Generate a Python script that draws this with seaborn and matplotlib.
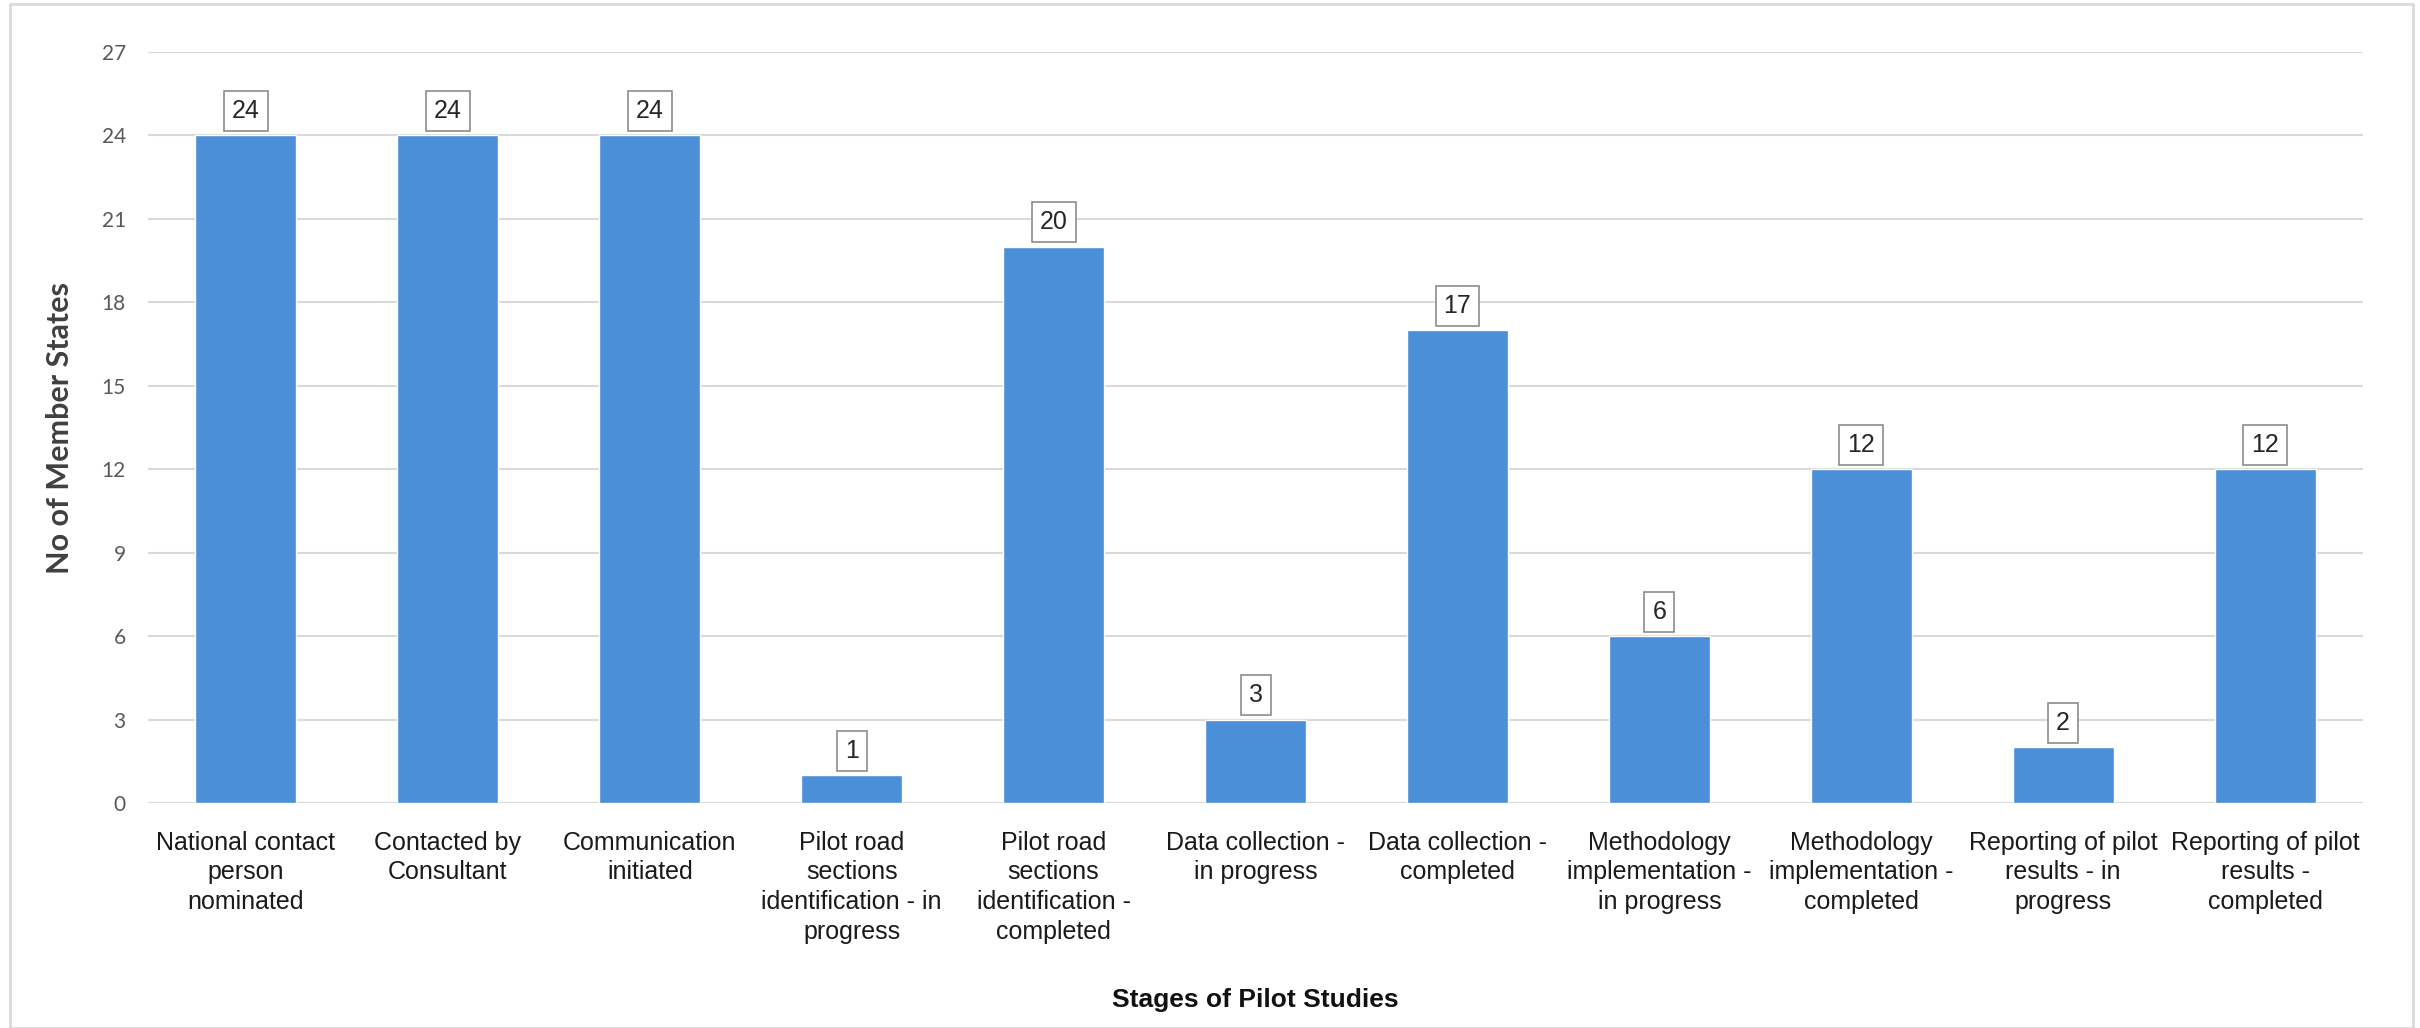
import matplotlib
matplotlib.use("Agg")
import matplotlib.pyplot as plt
import seaborn as sns
from matplotlib.patches import Rectangle

# Chart data
stages = [
    "National contact\nperson\nnominated",
    "Contacted by\nConsultant",
    "Communication\ninitiated",
    "Pilot road\nsections\nidentification - in\nprogress",
    "Pilot road\nsections\nidentification -\ncompleted",
    "Data collection -\nin progress",
    "Data collection -\ncompleted",
    "Methodology\nimplementation -\nin progress",
    "Methodology\nimplementation -\ncompleted",
    "Reporting of pilot\nresults - in\nprogress",
    "Reporting of pilot\nresults -\ncompleted",
]
member_states = [24, 24, 24, 1, 20, 3, 17, 6, 12, 2, 12]
y_ticks = list(range(0, 28, 3))

BAR_COLOR = "#4A8FD8"
ARIAL = ["Liberation Sans", "DejaVu Sans"]

sns.set_style("white")

fig = plt.figure(figsize=(24.2, 10.28), dpi=100)
ax = fig.add_axes([148 / 2420, 1 - 803 / 1028, (2363 - 148) / 2420, (803 - 52) / 1028])

# Bars
sns.barplot(x=stages, y=member_states, color=BAR_COLOR, width=0.5,
            saturation=1, ax=ax, zorder=3)

# Value labels in small boxes
ax.bar_label(ax.containers[0], padding=9, fontsize=18, color="#262626",
             family=ARIAL,
             bbox=dict(boxstyle="square,pad=0.32", facecolor="white",
                       edgecolor="#8c8c8c", linewidth=1.2))

# Axes styling
ax.set_ylim(0, 27)
ax.set_xlim(-0.485, len(stages) - 1 + 0.485)
ax.set_yticks(y_ticks)
ax.yaxis.grid(True, color="#d9d9d9", linewidth=1.5, zorder=0)
ax.set_axisbelow(True)
for side in ["top", "right", "left", "bottom"]:
    ax.spines[side].set_visible(False)
ax.tick_params(axis="both", length=0)
ax.tick_params(axis="y", labelsize=15, labelcolor="#595959", pad=16)
ax.tick_params(axis="x", pad=20)
for lbl in ax.get_yticklabels():
    lbl.set_family(["Lato", "DejaVu Sans"])
for lbl in ax.get_xticklabels():
    lbl.set_family(ARIAL)
    lbl.set_fontsize(18)
    lbl.set_color("#1a1a1a")
    lbl.set_linespacing(1.3)

ax.set_ylabel("No of Member States", fontsize=22, fontweight="bold",
              color="#404040", family=["Lato", "DejaVu Sans"], labelpad=20)
ax.set_xlabel("")
fig.text(1255 / 2420, 1 - 1000 / 1028, "Stages of Pilot Studies",
         ha="center", va="center", fontsize=19, fontweight="bold",
         family=ARIAL, color="#111111")

# Light frame around the chart
fig.patches.append(Rectangle((10 / 2420, 0.0), (2413 - 10) / 2420, 1 - 4 / 1028,
                             transform=fig.transFigure, fill=False,
                             edgecolor="#d9d9d9", linewidth=2))

fig.savefig("out.png", dpi=100)
